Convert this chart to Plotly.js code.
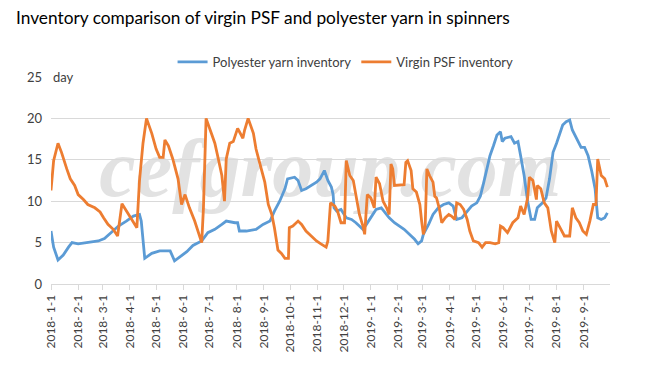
<!DOCTYPE html>
<html>
<head>
<meta charset="utf-8">
<script src="https://cdn.plot.ly/plotly-3.0.1.min.js"></script>
<style>
html,body{margin:0;padding:0;background:#fff;}
#chart{width:662px;height:374px;}
</style>
</head>
<body>
<div id="chart"></div>
<script>
// Polyester yarn inventory (days)
var yarnDates = ["2018-01-01","2018-01-04","2018-01-09","2018-01-15","2018-01-21","2018-01-25","2018-02-01","2018-02-09","2018-02-24","2018-03-03","2018-03-11","2018-03-19","2018-03-28","2018-04-05","2018-04-12","2018-04-14","2018-04-18","2018-04-26","2018-05-05","2018-05-17","2018-05-22","2018-05-28","2018-06-05","2018-06-12","2018-06-22","2018-06-29","2018-07-07","2018-07-15","2018-07-20","2018-07-30","2018-08-02","2018-08-04","2018-08-12","2018-08-23","2018-08-31","2018-09-08","2018-09-13","2018-09-19","2018-09-25","2018-09-28","2018-10-06","2018-10-10","2018-10-14","2018-10-19","2018-10-25","2018-10-31","2018-11-04","2018-11-09","2018-11-13","2018-11-17","2018-11-19","2018-11-20","2018-11-23","2018-11-28","2018-12-04","2018-12-10","2018-12-15","2018-12-23","2018-12-27","2019-01-01","2019-01-07","2019-01-13","2019-01-19","2019-01-22","2019-01-28","2019-02-03","2019-02-08","2019-02-14","2019-02-20","2019-02-24","2019-02-28","2019-03-02","2019-03-08","2019-03-13","2019-03-19","2019-03-25","2019-03-31","2019-04-05","2019-04-09","2019-04-15","2019-04-21","2019-04-26","2019-05-02","2019-05-06","2019-05-10","2019-05-14","2019-05-17","2019-05-21","2019-05-25","2019-05-29","2019-05-31","2019-06-03","2019-06-10","2019-06-14","2019-06-18","2019-06-21","2019-06-25","2019-06-29","2019-07-03","2019-07-07","2019-07-10","2019-07-16","2019-07-20","2019-07-24","2019-07-28","2019-08-01","2019-08-04","2019-08-08","2019-08-12","2019-08-16","2019-08-19","2019-08-25","2019-08-29","2019-09-02","2019-09-06","2019-09-10","2019-09-14","2019-09-17","2019-09-21","2019-09-25","2019-09-28"];
var yarnValues = [6.4,4.45,2.9,3.5,4.45,5.0,4.85,5.0,5.2,5.5,6.2,7.0,7.6,8.2,8.4,7.6,3.1,3.7,4.0,4.0,2.8,3.3,3.9,4.65,5.2,6.2,6.6,7.2,7.6,7.4,7.4,6.4,6.4,6.6,7.2,7.6,8.8,10.0,11.5,12.7,12.9,12.5,11.3,11.5,11.9,12.3,12.7,13.7,12.5,11.7,10.8,9.2,8.8,9.0,8.0,7.8,7.4,6.6,7.2,8.0,9.0,9.2,8.4,8.0,7.4,7.0,6.6,6.0,5.4,4.85,5.2,6.0,7.2,8.4,9.2,9.6,9.8,9.4,7.8,8.0,8.8,9.4,9.8,10.6,12.3,14.3,15.5,16.7,18.0,18.4,17.2,17.6,17.8,17.0,17.2,15.5,13.1,10.0,7.8,7.8,9.2,9.8,10.4,12.7,15.9,17.0,18.0,19.2,19.6,19.8,18.6,17.4,16.5,16.5,15.5,13.7,11.5,8.0,7.8,8.0,8.6];

// Virgin PSF inventory (days)
var psfDates = ["2018-01-01","2018-01-04","2018-01-09","2018-01-13","2018-01-19","2018-01-23","2018-01-28","2018-02-01","2018-02-07","2018-02-12","2018-02-20","2018-02-26","2018-03-02","2018-03-07","2018-03-13","2018-03-18","2018-03-23","2018-03-28","2018-04-03","2018-04-09","2018-04-12","2018-04-16","2018-04-20","2018-04-26","2018-05-01","2018-05-05","2018-05-09","2018-05-11","2018-05-15","2018-05-20","2018-05-26","2018-05-30","2018-06-03","2018-06-08","2018-06-14","2018-06-20","2018-06-22","2018-06-24","2018-06-27","2018-07-03","2018-07-07","2018-07-11","2018-07-15","2018-07-18","2018-07-20","2018-07-24","2018-07-28","2018-08-02","2018-08-08","2018-08-10","2018-08-14","2018-08-20","2018-08-23","2018-08-27","2018-09-02","2018-09-06","2018-09-10","2018-09-13","2018-09-17","2018-09-21","2018-09-25","2018-09-29","2018-09-30","2018-10-04","2018-10-10","2018-10-14","2018-10-19","2018-10-25","2018-10-31","2018-11-05","2018-11-11","2018-11-13","2018-11-16","2018-11-21","2018-11-24","2018-11-28","2018-12-02","2018-12-04","2018-12-08","2018-12-12","2018-12-15","2018-12-19","2018-12-23","2018-12-25","2018-12-28","2019-01-01","2019-01-05","2019-01-07","2019-01-11","2019-01-15","2019-01-19","2019-01-22","2019-01-24","2019-01-26","2019-01-28","2019-02-08","2019-02-10","2019-02-12","2019-02-16","2019-02-18","2019-02-22","2019-02-26","2019-02-28","2019-03-02","2019-03-04","2019-03-06","2019-03-09","2019-03-13","2019-03-15","2019-03-17","2019-03-20","2019-03-23","2019-03-27","2019-03-31","2019-04-03","2019-04-07","2019-04-09","2019-04-13","2019-04-17","2019-04-21","2019-04-24","2019-04-28","2019-05-04","2019-05-08","2019-05-12","2019-05-17","2019-05-23","2019-05-27","2019-05-29","2019-06-01","2019-06-06","2019-06-12","2019-06-18","2019-06-21","2019-06-25","2019-06-29","2019-07-01","2019-07-05","2019-07-09","2019-07-10","2019-07-14","2019-07-18","2019-07-22","2019-07-26","2019-07-30","2019-08-01","2019-08-06","2019-08-10","2019-08-16","2019-08-19","2019-08-23","2019-08-27","2019-08-31","2019-09-04","2019-09-08","2019-09-12","2019-09-15","2019-09-17","2019-09-21","2019-09-25","2019-09-28"];
var psfValues = [11.3,14.9,17.0,15.9,13.9,12.7,11.9,10.8,10.2,9.6,9.2,8.7,8.0,7.2,6.6,5.8,9.7,8.8,7.8,6.8,12.5,17.0,20.0,18.2,16.3,15.3,15.3,17.4,16.7,15.1,12.7,9.6,10.8,9.2,7.6,5.6,5.0,9.2,20.0,18.2,17.0,15.1,13.1,10.0,15.1,17.0,17.2,18.8,17.6,18.6,20.0,18.2,16.3,14.7,12.3,9.6,8.4,6.8,4.1,3.7,3.1,3.1,6.8,7.0,7.6,7.2,6.4,5.8,5.2,4.85,4.45,5.2,9.8,9.4,8.8,7.4,7.4,14.9,13.1,12.5,10.8,8.4,7.0,6.0,10.8,10.4,9.2,12.9,12.1,10.0,9.2,8.4,14.5,13.9,11.9,12.0,14.7,14.9,13.7,11.5,11.1,9.6,7.6,6.0,6.8,13.9,13.1,12.3,10.6,10.4,9.2,7.4,8.0,8.4,8.2,7.8,9.8,9.6,9.0,7.8,6.4,5.2,5.0,4.45,5.0,5.0,4.85,5.0,7.0,6.8,6.2,7.4,8.0,9.4,8.4,10.4,12.9,12.5,10.2,11.9,11.5,9.8,9.2,6.4,5.0,7.6,6.6,5.8,5.8,9.2,8.0,7.4,6.4,6.0,7.6,9.6,9.6,15.1,13.1,12.7,11.7];

// x-axis ticks (month starts)
var tickDates = ["2018-01-01","2018-02-01","2018-03-01","2018-04-01","2018-05-01","2018-06-01","2018-07-01","2018-08-01","2018-09-01","2018-10-01","2018-11-01","2018-12-01","2019-01-01","2019-02-01","2019-03-01","2019-04-01","2019-05-01","2019-06-01","2019-07-01","2019-08-01","2019-09-01"];
var tickLabels = ["2018- 1-1","2018- 2-1","2018- 3-1","2018- 4-1","2018- 5-1","2018- 6-1","2018- 7-1","2018- 8-1","2018- 9-1","2018-10-1","2018-11-1","2018-12-1","2019- 1-1","2019- 2-1","2019- 3-1","2019- 4-1","2019- 5-1","2019- 6-1","2019- 7-1","2019- 8-1","2019- 9-1"];

var seriesNames = ["Polyester yarn inventory","Virgin PSF inventory"];
var titleText = "Inventory comparison of virgin PSF and polyester yarn in spinners";
var yUnit = "day";
var watermark = "cefgroup.com";

var FONT = "Lato, 'Open Sans', sans-serif";

var traces = [
  {x: yarnDates, y: yarnValues, name: seriesNames[0], type: "scatter", mode: "lines",
   line: {color: "#5B9BD5", width: 2.8}},
  {x: psfDates, y: psfValues, name: seriesNames[1], type: "scatter", mode: "lines",
   line: {color: "#ED7D31", width: 2.8}}
];

var layout = {
  width: 662, height: 374,
  margin: {l: 51, r: 52, t: 72, b: 90},
  paper_bgcolor: "#ffffff", plot_bgcolor: "#ffffff",
  font: {family: FONT, color: "#595959", size: 12},
  showlegend: true,
  legend: {orientation: "h", x: 0.522, xanchor: "center", y: 1 - 62/374, yanchor: "middle",
    xref: "container", yref: "container", bgcolor: "rgba(0,0,0,0)",
    font: {family: FONT, size: 13, color: "#404040"}, itemwidth: 30, tracegroupgap: 0},
  title: {text: titleText, x: 16/662, xanchor: "left", xref: "container", y: 1 - 18/374, yanchor: "middle", yref: "container",
    font: {family: FONT, size: 17.3, color: "#000000"}},
  xaxis: {type: "date", range: ["2018-01-01", "2019-10-01"],
    tickmode: "array", tickvals: tickDates, ticktext: tickLabels, tickangle: -90,
    ticks: "outside", ticklen: 5, tickcolor: "#d9d9d9", showgrid: false,
    showline: true, linecolor: "#d9d9d9", linewidth: 1, zeroline: false,
    tickfont: {family: FONT, size: 12, color: "#404040"}},
  yaxis: {range: [0, 25], tickvals: [0,5,10,15,20,25], showgrid: true, gridcolor: "#d9d9d9", gridwidth: 1,
    zeroline: false, showline: false, ticks: "", ticklabelstandoff: 8,
    tickfont: {family: FONT, size: 13, color: "#404040"}},
  annotations: [
    {text: yUnit, xref: "paper", yref: "paper", x: 0.0, y: 1.0, xanchor: "left", yanchor: "middle",
     showarrow: false, font: {family: FONT, size: 13, color: "#404040"}, bgcolor: "#ffffff"}
  ],
  shapes: [
    {type: "rect", xref: "paper", yref: "paper", x0: 0.08, x1: 0.92, y0: 0.46, y1: 0.74, layer: "below",
     line: {width: 0}, fillcolor: "rgba(0,0,0,0)",
     label: {text: watermark, textposition: "middle center",
       font: {family: "'Liberation Serif', 'DejaVu Serif', serif", size: 82, color: "#e2e2e2", style: "italic", weight: "bold"}}}
  ]
};

Plotly.newPlot("chart", traces, layout, {displayModeBar: false, staticPlot: true});
</script>
</body>
</html>
